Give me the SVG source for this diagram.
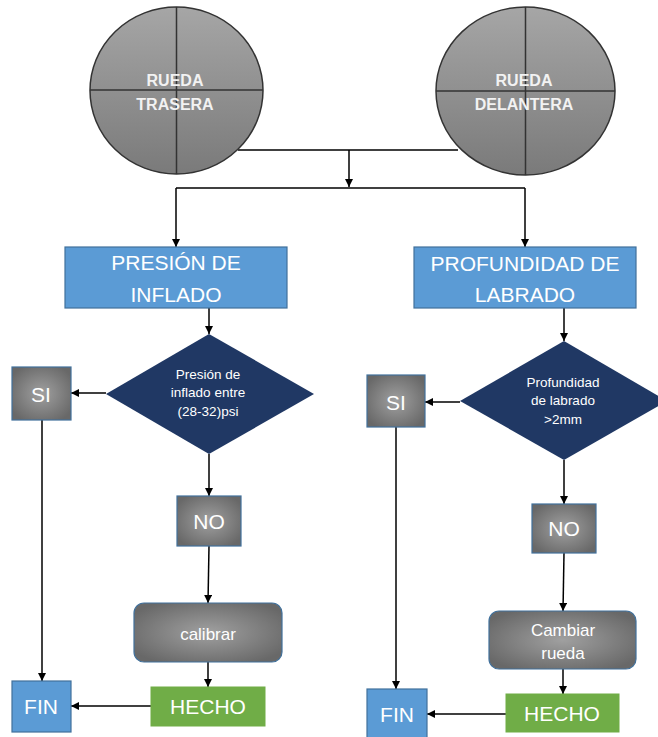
<svg xmlns="http://www.w3.org/2000/svg" width="658" height="737" viewBox="0 0 658 737">
<defs>
<linearGradient id="gWheel" x1="0" y1="0" x2="0" y2="1">
<stop offset="0" stop-color="#A6A6A6"/>
<stop offset="1" stop-color="#7A7A7A"/>
</linearGradient>
<radialGradient id="gBox" cx="0.5" cy="0.5" r="0.6">
<stop offset="0" stop-color="#A0A0A0"/>
<stop offset="1" stop-color="#686868"/>
</radialGradient>
<marker id="ah" viewBox="0 0 10 10" refX="10" refY="5" markerWidth="8" markerHeight="8" markerUnits="userSpaceOnUse" orient="auto">
<path d="M0,0 L10,5 L0,10 z" fill="#000"/>
</marker>
<style>
.wheel{fill:url(#gWheel);stroke:#333;stroke-width:1.5}
.spoke{stroke:#333;stroke-width:1.5}
.wt{font-family:"Liberation Sans",Arial,sans-serif;font-weight:bold;font-size:16px;fill:#F2F2F2;text-anchor:middle}
.blue{fill:#5B9BD5;stroke:#41719C;stroke-width:1.2}
.green{fill:#70AD47;stroke:#70AD47;stroke-width:1}
.gray{fill:url(#gBox);stroke:#41719C;stroke-width:1.2}
.dia{fill:#203864}
.t{font-family:"Liberation Sans",Arial,sans-serif;fill:#fff;text-anchor:middle}
.big{font-size:21px}
.sm{font-size:13.5px}
.md{font-size:17px}
.c{fill:none;stroke:#000;stroke-width:1.5}
.ca{fill:none;stroke:#000;stroke-width:1.5;marker-end:url(#ah)}
</style>
</defs>
<g id="connectors">
<path class="c" d="M238,150 H458"/>
<path class="ca" d="M349,150 V187"/>
<path class="c" d="M176,188 H525"/>
<path class="ca" d="M176,188 V247"/>
<path class="ca" d="M525,188 V247"/>
<path class="ca" d="M209,308 V334"/>
<path class="ca" d="M106,393 H71"/>
<path class="ca" d="M209,454 V496"/>
<path class="ca" d="M209,546 L208,603"/>
<path class="ca" d="M208,662 V687"/>
<path class="ca" d="M151,706 H71"/>
<path class="ca" d="M42,420 V681"/>
<path class="ca" d="M564,308 V341"/>
<path class="ca" d="M460,402 H425"/>
<path class="ca" d="M564,460 V504"/>
<path class="ca" d="M564,553 L563,611"/>
<path class="ca" d="M563,669 V694"/>
<path class="ca" d="M506,714 H427"/>
<path class="ca" d="M396,427 V689"/>
</g>
<g id="rueda-trasera">
<ellipse class="wheel" cx="176.5" cy="90.5" rx="86.5" ry="83.5"/>
<path class="spoke" d="M176.5,7 V174 M90,90 H263"/>
<text class="wt" x="175" y="86">RUEDA</text>
<text class="wt" x="175" y="110">TRASERA</text>
</g>
<g id="rueda-delantera">
<ellipse class="wheel" cx="525.5" cy="91" rx="89.5" ry="84"/>
<path class="spoke" d="M525.5,7 V175 M436,91 H615"/>
<text class="wt" x="524" y="86">RUEDA</text>
<text class="wt" x="524" y="110">DELANTERA</text>
</g>
<g id="presion-inflado">
<rect class="blue" x="65" y="247" width="222" height="61"/>
<text class="t big" x="176" y="270">PRESIÓN DE</text>
<text class="t big" x="176" y="302">INFLADO</text>
</g>
<g id="profundidad-labrado">
<rect class="blue" x="414" y="247" width="222" height="61"/>
<text class="t big" x="525" y="271">PROFUNDIDAD DE</text>
<text class="t big" x="525" y="302">LABRADO</text>
</g>
<g id="decision-presion">
<polygon class="dia" points="209,334 314,394 209,454 106,394"/>
<text class="t sm" x="208" y="379">Presión de</text>
<text class="t sm" x="208" y="397">inflado entre</text>
<text class="t sm" x="208" y="416">(28-32)psi</text>
</g>
<g id="decision-labrado">
<polygon class="dia" points="564,341 667,401 564,460 460,401"/>
<text class="t sm" x="563" y="387">Profundidad</text>
<text class="t sm" x="563" y="405">de labrado</text>
<text class="t sm" x="563" y="424">&gt;2mm</text>
</g>
<g id="si-left">
<rect class="gray" x="12" y="367" width="59" height="53"/>
<text class="t big" x="41" y="402">SI</text>
</g>
<g id="si-right">
<rect class="gray" x="367" y="375" width="58" height="52"/>
<text class="t big" x="396" y="410">SI</text>
</g>
<g id="no-left">
<rect class="gray" x="177" y="496" width="64" height="50"/>
<text class="t big" x="209" y="529">NO</text>
</g>
<g id="no-right">
<rect class="gray" x="532" y="504" width="64" height="49"/>
<text class="t big" x="564" y="536">NO</text>
</g>
<g id="calibrar">
<rect class="gray" x="134" y="603" width="148" height="59" rx="10"/>
<text class="t md" x="208" y="640">calibrar</text>
</g>
<g id="cambiar-rueda">
<rect class="gray" x="489" y="611" width="147" height="58" rx="10"/>
<text class="t md" x="563" y="636">Cambiar</text>
<text class="t md" x="563" y="659">rueda</text>
</g>
<g id="hecho-left">
<rect class="green" x="151" y="687" width="114" height="39"/>
<text class="t big" x="208" y="714">HECHO</text>
</g>
<g id="hecho-right">
<rect class="green" x="506" y="694" width="113" height="38"/>
<text class="t big" x="562" y="721">HECHO</text>
</g>
<g id="fin-left">
<rect class="blue" x="12" y="681" width="59" height="51"/>
<text class="t big" x="41" y="714">FIN</text>
</g>
<g id="fin-right">
<rect class="blue" x="367" y="689" width="60" height="50"/>
<text class="t big" x="397" y="722">FIN</text>
</g>
</svg>
